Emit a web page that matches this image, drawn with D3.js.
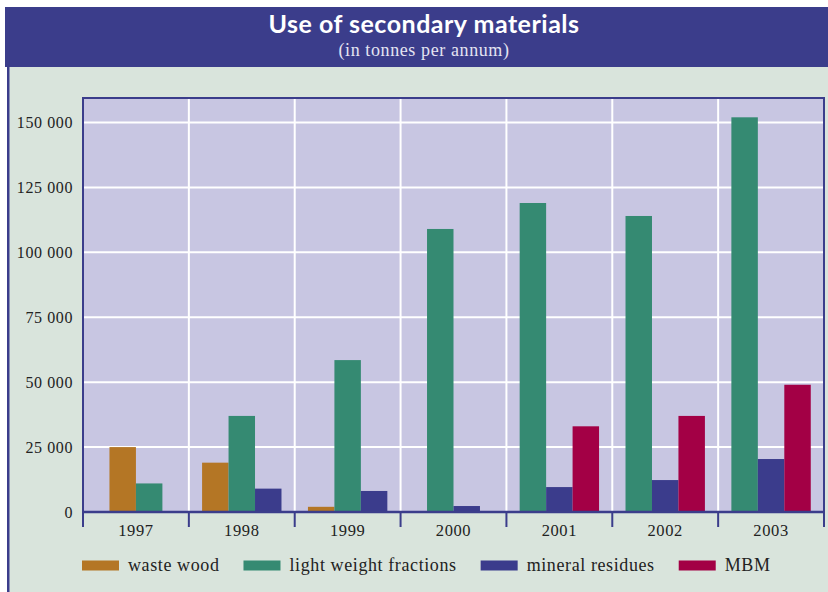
<!DOCTYPE html>
<html>
<head>
<meta charset="utf-8">
<script src="https://cdn.jsdelivr.net/npm/d3@7"></script>
<style>
  html, body { margin: 0; padding: 0; background: #ffffff; }
  svg { display: block; }
</style>
</head>
<body>
<svg id="chart" width="828" height="592"></svg>
<script>
// Use of secondary materials, tonnes per annum
const years = ["1997", "1998", "1999", "2000", "2001", "2002", "2003"];
const wasteWood = [25000, 19000, 2000, 0, 0, 0, 0];
const lightWeightFractions = [11000, 37000, 58500, 109000, 119000, 114000, 152000];
const mineralResidues = [0, 9000, 8100, 2300, 9600, 12300, 20400];
const mbm = [0, 0, 0, 0, 33000, 37000, 49000];
const yTicks = [0, 25000, 50000, 75000, 100000, 125000, 150000];

const seriesNames = ["waste wood", "light weight fractions", "mineral residues", "MBM"];
const seriesColors = ["#b47625", "#358a72", "#3b3c8c", "#a30045"];
const seriesValues = [wasteWood, lightWeightFractions, mineralResidues, mbm];

const W = 828, H = 592;
const navy = "#3b3d8b";
const plot = { left: 83, right: 824, top: 98, bottom: 512 };

const svg = d3.select("#chart");

// panel background and frame
svg.append("rect").attr("x", 8).attr("y", 7).attr("width", W - 8).attr("height", H - 7)
  .attr("fill", "#d9e4dc");
svg.append("rect").attr("x", 5).attr("y", 7).attr("width", W - 5).attr("height", 60)
  .attr("fill", navy);
svg.append("rect").attr("x", 7).attr("y", 7).attr("width", 2.5).attr("height", H - 7)
  .attr("fill", navy);

// header text
svg.append("text").attr("x", 424).attr("y", 33)
  .attr("text-anchor", "middle")
  .attr("font-family", "Lato, 'Open Sans', sans-serif")
  .attr("font-weight", 700).attr("font-size", 25).attr("letter-spacing", 0.5)
  .attr("fill", "#ffffff")
  .text("Use of secondary materials");
svg.append("text").attr("x", 424).attr("y", 55.5)
  .attr("text-anchor", "middle")
  .attr("font-family", "'Liberation Serif', serif")
  .attr("font-size", 18).attr("letter-spacing", 0.6)
  .attr("fill", "#e4e4f2")
  .text("(in tonnes per annum)");

// scales
const x = d3.scaleBand().domain(years).range([plot.left, plot.right]).padding(0);
const y = d3.scaleLinear().domain([0, 150000]).range([plot.bottom, 122.5]);

// plot area
svg.append("rect")
  .attr("x", plot.left).attr("y", plot.top)
  .attr("width", plot.right - plot.left).attr("height", plot.bottom - plot.top)
  .attr("fill", "#c8c6e2");

// horizontal gridlines
svg.append("g").selectAll("line").data(yTicks.filter(d => d > 0)).join("line")
  .attr("x1", plot.left).attr("x2", plot.right)
  .attr("y1", d => y(d)).attr("y2", d => y(d))
  .attr("stroke", "#ffffff").attr("stroke-width", 2);

// vertical gridlines between years
svg.append("g").selectAll("line").data(years.slice(1)).join("line")
  .attr("x1", d => x(d)).attr("x2", d => x(d))
  .attr("y1", plot.top).attr("y2", plot.bottom)
  .attr("stroke", "#ffffff").attr("stroke-width", 2);

// bars: only the series present in a year, centred in that year's band
const barW = x.bandwidth() / 4;
const bars = [];
years.forEach((yr, i) => {
  const present = seriesValues.map((vals, s) => ({ s, v: vals[i] })).filter(d => d.v > 0);
  const start = x(yr) + x.bandwidth() / 2 - present.length * barW / 2;
  present.forEach((d, k) => bars.push({ year: yr, s: d.s, v: d.v, x0: start + k * barW }));
});
svg.append("g").selectAll("rect").data(bars).join("rect")
  .attr("x", d => d.x0).attr("width", barW)
  .attr("y", d => y(d.v)).attr("height", d => y(0) - y(d.v))
  .attr("fill", d => seriesColors[d.s]);

// frame of the plot area
svg.append("path")
  .attr("d", `M${plot.left},${plot.bottom}V${plot.top}H${plot.right}V${plot.bottom}`)
  .attr("fill", "none").attr("stroke", navy).attr("stroke-width", 2);

// y axis labels, thousands separated by a space
const yAxis = d3.axisLeft(y).tickValues(yTicks).tickSize(0).tickPadding(10)
  .tickFormat(d => d3.format(",")(d).replace(/,/g, " "));
const gy = svg.append("g").attr("transform", `translate(${plot.left},0)`).call(yAxis);
gy.select(".domain").remove();
gy.selectAll("text")
  .attr("font-family", "'Liberation Serif', serif")
  .attr("font-size", 16).attr("letter-spacing", 0.6)
  .attr("fill", "#222222");

// x axis: year labels centred in bands, tick marks on band edges
const xAxis = d3.axisBottom(x).tickSize(0).tickPadding(12);
const gx = svg.append("g").attr("transform", `translate(0,${plot.bottom})`).call(xAxis);
gx.select(".domain").remove();
gx.selectAll("text")
  .attr("font-family", "'Liberation Serif', serif")
  .attr("font-size", 16.5).attr("letter-spacing", 0.6)
  .attr("fill", "#222222");

const edges = years.map(d => x(d)).concat([plot.right]);
svg.append("g").selectAll("line").data(edges).join("line")
  .attr("x1", d => d).attr("x2", d => d)
  .attr("y1", plot.bottom).attr("y2", plot.bottom + 15)
  .attr("stroke", navy).attr("stroke-width", 2);
svg.append("line")
  .attr("x1", plot.left).attr("x2", plot.right)
  .attr("y1", plot.bottom).attr("y2", plot.bottom)
  .attr("stroke", navy).attr("stroke-width", 2.5);

// legend
const legend = svg.append("g").attr("transform", "translate(82,0)");
let lx = 0;
seriesNames.forEach((name, i) => {
  const item = legend.append("g").attr("transform", `translate(${lx},0)`);
  item.append("rect").attr("x", 0).attr("y", 560.5).attr("width", 37).attr("height", 10)
    .attr("fill", seriesColors[i]);
  const t = item.append("text").attr("x", 46).attr("y", 570.5)
    .attr("font-family", "'Liberation Serif', serif")
    .attr("font-size", 18).attr("letter-spacing", 0.6)
    .attr("fill", "#222222")
    .text(name);
  lx += 46 + t.node().getComputedTextLength() + 24;
});
</script>
</body>
</html>
